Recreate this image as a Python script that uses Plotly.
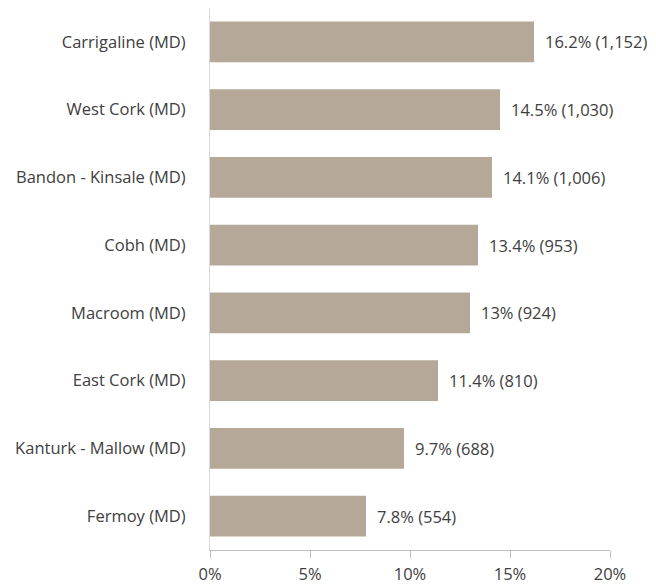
import plotly.graph_objects as go

categories = ["Carrigaline (MD)", "West Cork (MD)", "Bandon - Kinsale (MD)", "Cobh (MD)",
              "Macroom (MD)", "East Cork (MD)", "Kanturk - Mallow (MD)", "Fermoy (MD)"]
percent = [16.2, 14.5, 14.1, 13.4, 13, 11.4, 9.7, 7.8]
counts = ["1,152", "1,030", "1,006", "953", "924", "810", "688", "554"]
tick_vals = [0, 5, 10, 15, 20]
tick_text = ["0%", "5%", "10%", "15%", "20%"]

FONT = "Open Sans"
FS = 16.5
TXT = "#404040"

labels = [f"{p:g}% ({c})" for p, c in zip(percent, counts)]

fig = go.Figure(go.Bar(
    x=percent, y=categories, orientation="h",
    marker=dict(color="#b5a898", line=dict(width=0)),
    hoverinfo="skip",
))

for cat, p, lab in zip(categories, percent, labels):
    fig.add_annotation(x=p, y=cat, text=lab, showarrow=False, xanchor="left",
                       xshift=9, font=dict(family=FONT, size=FS, color=TXT))

# page body has ~8px margin, so the figure is sized to fit inside the window
fig.update_layout(
    width=648, height=580,
    margin=dict(l=202, r=46, t=0, b=38),
    plot_bgcolor="white", paper_bgcolor="white",
    font=dict(family=FONT, size=FS, color=TXT),
    bargap=0.4, showlegend=False,
)
fig.update_xaxes(range=[0, 20], tickvals=tick_vals, ticktext=tick_text,
                 showgrid=False, zeroline=False, showline=True, linecolor="#bfbfbf",
                 ticks="outside", ticklen=7, tickcolor="#bfbfbf",
                 ticklabelstandoff=2, tickfont=dict(size=FS, color=TXT))
fig.update_yaxes(autorange="reversed", showgrid=False, showline=True, linecolor="#d9d9d9",
                 ticks="", ticklabelstandoff=20, tickfont=dict(size=FS, color=TXT))

fig.write_html("out.html")
